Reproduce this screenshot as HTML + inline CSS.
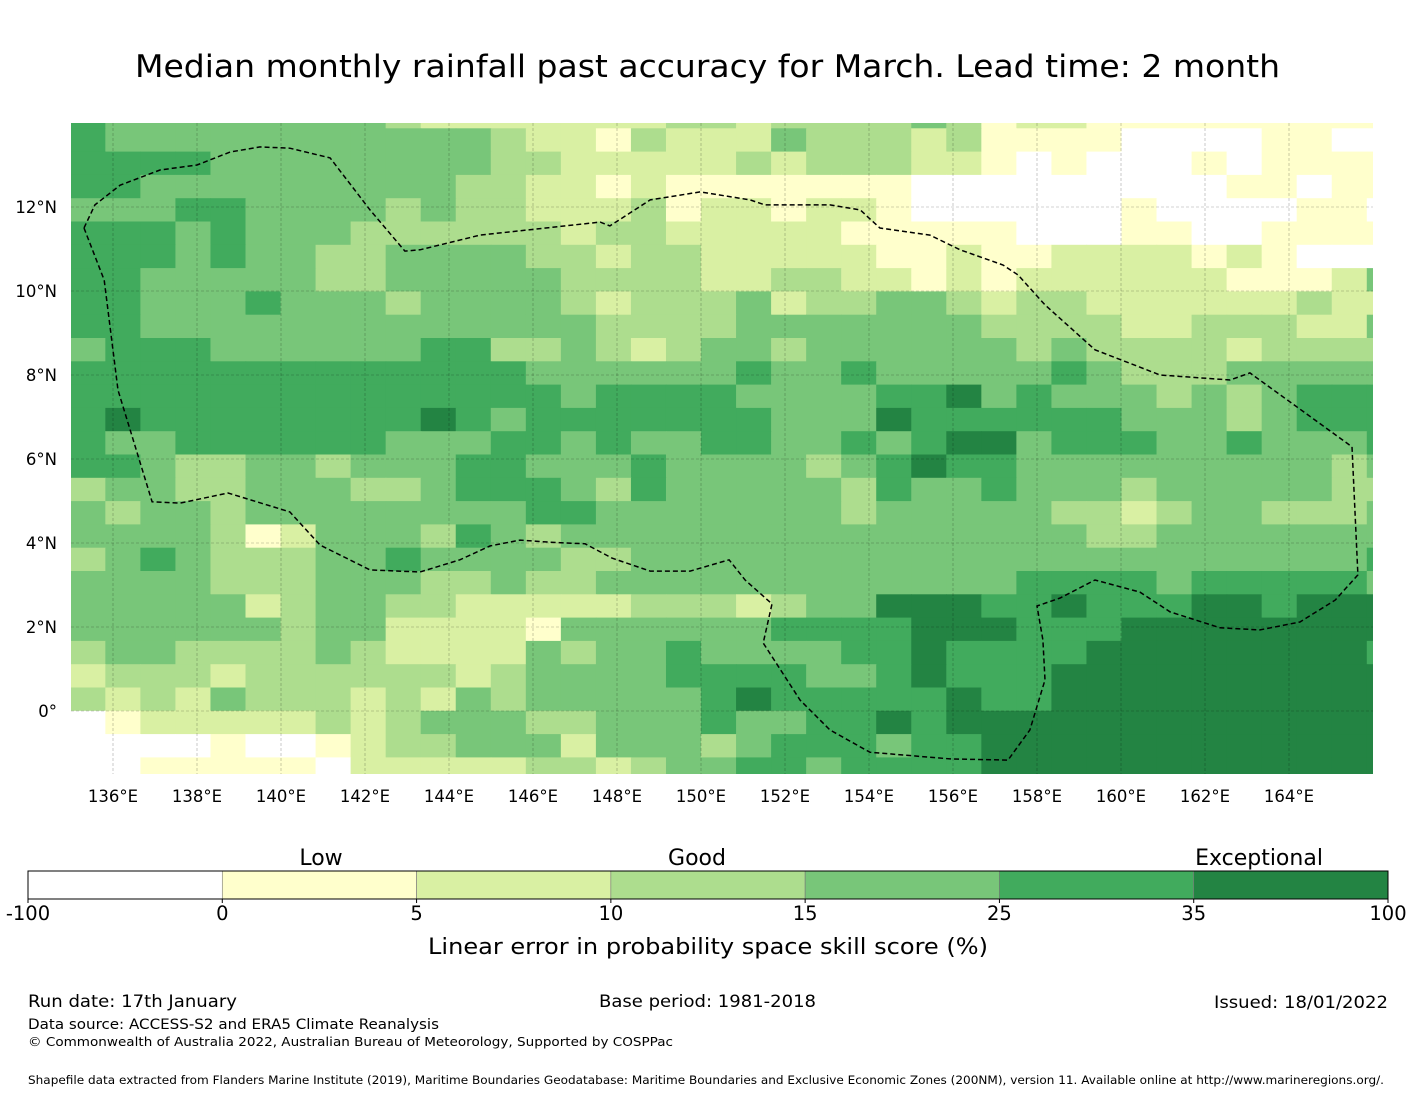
<!DOCTYPE html>
<html><head><meta charset="utf-8">
<style>
html,body{margin:0;padding:0;background:#fff;}
svg{display:block;font-family:"DejaVu Sans","Liberation Sans",sans-serif;}
</style></head>
<body>
<svg id="chart" width="1416" height="1095" viewBox="0 0 1416 1095">
<text x="135" y="77" font-size="31" textLength="1145" lengthAdjust="spacingAndGlyphs">Median monthly rainfall past accuracy for March. Lead time: 2 month</text>
<g id="map"></g>
<g id="grid"></g>
<path id="eez" fill="none" stroke="#000" stroke-width="1.5" stroke-dasharray="5,3"/>
<g id="axes"></g>
<g id="cbar"></g>
<text x="321" y="865" text-anchor="middle" font-size="22">Low</text>
<text x="697" y="865" text-anchor="middle" font-size="22">Good</text>
<text x="1259" y="865" text-anchor="middle" font-size="22">Exceptional</text>
<text x="428" y="954" font-size="22" textLength="560" lengthAdjust="spacingAndGlyphs">Linear error in probability space skill score (%)</text>
<text x="28" y="1007" font-size="17" textLength="209" lengthAdjust="spacingAndGlyphs">Run date: 17th January</text>
<text x="599" y="1007" font-size="17" textLength="217" lengthAdjust="spacingAndGlyphs">Base period: 1981-2018</text>
<text x="1214" y="1008" font-size="17" textLength="174" lengthAdjust="spacingAndGlyphs">Issued: 18/01/2022</text>
<text x="28" y="1029" font-size="14" textLength="411" lengthAdjust="spacingAndGlyphs">Data source: ACCESS-S2 and ERA5 Climate Reanalysis</text>
<text x="28" y="1046" font-size="12.5" textLength="645" lengthAdjust="spacingAndGlyphs">© Commonwealth of Australia 2022, Australian Bureau of Meteorology, Supported by COSPPac</text>
<text x="28" y="1084" font-size="11.5" textLength="1356" lengthAdjust="spacingAndGlyphs">Shapefile data extracted from Flanders Marine Institute (2019), Maritime Boundaries Geodatabase: Maritime Boundaries and Exclusive Economic Zones (200NM), version 11. Available online at http://www.marineregions.org/.</text>
</svg>
<script>
// skill categories per grid cell (0=<0 ... 6=35-100), rows north->south
const gridRows = [
"5444444443222"+"2222332333343"+"122111111111",
"5444444444443"+"2213222433323"+"111100001100",
"5555444444443"+"3222223233322"+"101000101111",
"5544444444433"+"2212111111100"+"000000011011",
"4445544443433"+"2223122122100"+"000010000110",
"5554544433333"+"3233222221111"+"100011001111",
"5554544334444"+"3323322222112"+"112222121000",
"5544444334444"+"4333322332212"+"122222211124",
"5544454443444"+"4323334233443"+"233222222322",
"5544444444444"+"4433334444444"+"333322333224",
"4555444444553"+"3432344344444"+"434333323333",
"5555555555555"+"4444445445444"+"445433344444",
"5555555555555"+"5455554444556"+"454443434555",
"5655555555654"+"5555555444655"+"555544434555",
"5445555554445"+"5454455445456"+"645554454445",
"5543344344455"+"4445444434565"+"544444444434",
"3443344433455"+"5435444443544"+"544434444433",
"4344344444444"+"5544444443444"+"443323443334",
"4444312444354"+"3444444444444"+"444334444444",
"3454333445444"+"4334444444444"+"444444444445",
"4444333444334"+"3344444444444"+"455554555554",
"4444423443322"+"2223332344666"+"556555665666",
"4444443442222"+"1444444555566"+"655566666666",
"3443333432222"+"4344544445565"+"555666666665",
"2333233333323"+"4444555544565"+"556666666666",
"3232433323243"+"4444456555556"+"556666666666",
"0122222323444"+"3344454455656"+"666666666666",
"0000100123344"+"4244434555455"+"666666666666",
"0011111022222"+"3323445545555"+"666666666666"
];
const binEdges = [-100,0,5,10,15,25,35,100];
const binColors = ["#ffffff","#ffffcc","#d9f0a3","#addd8e","#78c679","#41ab5d","#238443"];
const lonTicks = [136,138,140,142,144,146,148,150,152,154,156,158,160,162,164];
const latTicks = [0,2,4,6,8,10,12];
const latTickLabels = ["0°","2°N","4°N","6°N","8°N","10°N","12°N"];
// EEZ boundary vertices [lon, lat]
const eezLon = [135.31,135.79,136.12,136.93,137.6,138.74,140.21,140.93,142.12,143.31,144.26,144.98,145.69,146.4,147.24,147.88,148.79,149.74,150.67,151.05,151.69,151.48,152.36,153.07,154.02,155.93,157.31,157.83,158.19,158.14,158.0,158.55,159.38,160.45,161.17,162.36,163.31,164.26,165.1,165.64,165.5,163.07,162.6,160.93,159.38,158.19,157.55,157.19,156.17,155.45,154.26,153.79,153.07,151.52,151.17,149.98,148.79,147.83,147.6,144.74,143.31,142.95,142.12,141.17,140.21,139.5,138.79,138.0,137.12,136.17,135.57];
const eezLat = [11.5,10.26,7.64,4.98,4.95,5.19,4.74,3.95,3.36,3.31,3.6,3.93,4.07,4.02,3.98,3.64,3.33,3.33,3.6,3.12,2.55,1.62,0.26,-0.45,-0.98,-1.14,-1.17,-0.45,0.74,1.69,2.5,2.69,3.12,2.83,2.36,1.98,1.93,2.12,2.64,3.24,6.29,8.05,7.88,8.0,8.6,9.67,10.38,10.62,10.98,11.33,11.5,11.93,12.05,12.05,12.17,12.36,12.17,11.55,11.64,11.33,10.98,10.95,11.93,13.17,13.4,13.43,13.31,13.0,12.88,12.52,12.05];

const NS="http://www.w3.org/2000/svg";
const mapL=71,mapR=1373,mapT=123,mapB=774;
function xOf(lon){return 113+(lon-136)*42;}
function yOf(lat){return 207-(lat-12)*42;}
const colW=35.04, col0=70.3, rowH=23.3, row0=128.3;
function mk(tag,attrs,parent){const e=document.createElementNS(NS,tag);for(const k in attrs)e.setAttribute(k,attrs[k]);parent.appendChild(e);return e;}
const map=document.getElementById('map');
const clip=mk('clipPath',{id:'mc'},document.getElementById('chart'));
mk('rect',{x:mapL,y:mapT,width:mapR-mapL,height:mapB-mapT},clip);
map.setAttribute('clip-path','url(#mc)');
gridRows.forEach((row,r)=>{
  for(let c=0;c<row.length;c++){
    const v=+row[c];
    const y=r===0?mapT-20:row0+(r-1)*rowH;
    const h=r===0?row0-mapT+20:rowH;
    const el=mk('rect',{x:col0+c*colW,y:y,width:colW+0.6,height:h+0.6,fill:binColors[v]},map);
    
    
  }
});
const grid=document.getElementById('grid');
lonTicks.forEach(l=>{const e=mk('line',{x1:xOf(l),x2:xOf(l),y1:mapT,y2:mapB,stroke:'#000','stroke-width':0.6,'stroke-dasharray':'3,2','stroke-opacity':0.35},grid);
  });
latTicks.forEach(l=>{const e=mk('line',{x1:mapL,x2:mapR,y1:yOf(l),y2:yOf(l),stroke:'#000','stroke-width':0.6,'stroke-dasharray':'3,2','stroke-opacity':0.35},grid);
  });
let d='';
eezLon.forEach((lo,i)=>{d+=(i?'L':'M')+xOf(lo).toFixed(1)+','+yOf(eezLat[i]).toFixed(1);});
document.getElementById('eez').setAttribute('d',d+'Z');
const axes=document.getElementById('axes');
lonTicks.forEach(l=>{const t=mk('text',{x:xOf(l),y:802,'text-anchor':'middle','font-size':16.5},axes);t.textContent=l+'°E';
  });
latTicks.forEach((l,i)=>{const t=mk('text',{x:57,y:yOf(l)+6,'text-anchor':'end','font-size':16.5},axes);t.textContent=latTickLabels[i];
  });
const cb=document.getElementById('cbar');
const cbL=28,cbR=1388,cbT=871,cbB=899,segW=(cbR-cbL)/binColors.length;
binColors.forEach((c,i)=>{const e=mk('rect',{x:cbL+i*segW,y:cbT,width:segW,height:cbB-cbT,fill:c,stroke:'#777','stroke-width':0.6},cb);
  });
const border=mk('rect',{x:cbL,y:cbT,width:cbR-cbL,height:cbB-cbT,fill:'none',stroke:'#000','stroke-width':1},cb);


binEdges.forEach((v,i)=>{const x=cbL+i*segW;
  const tk=mk('line',{x1:x,x2:x,y1:cbB,y2:cbB+4,stroke:'#000'},cb);
  
  const t=mk('text',{x:x,y:920,'text-anchor':'middle','font-size':19.5},cb);t.textContent=v;
  });
</script>
</body></html>
